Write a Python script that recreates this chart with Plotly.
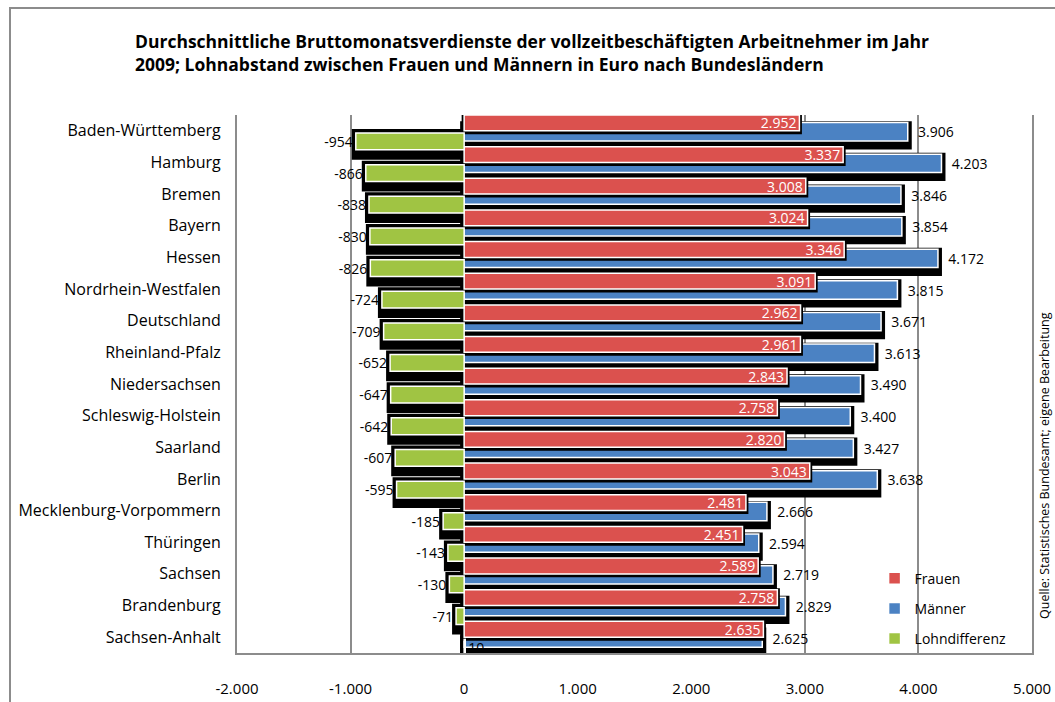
import plotly.graph_objects as go

laender = ["Baden-Württemberg", "Hamburg", "Bremen", "Bayern", "Hessen",
           "Nordrhein-Westfalen", "Deutschland", "Rheinland-Pfalz", "Niedersachsen",
           "Schleswig-Holstein", "Saarland", "Berlin", "Mecklenburg-Vorpommern",
           "Thüringen", "Sachsen", "Brandenburg", "Sachsen-Anhalt"]
frauen = [2952, 3337, 3008, 3024, 3346, 3091, 2962, 2961, 2843, 2758, 2820, 3043,
          2481, 2451, 2589, 2758, 2635]
maenner = [3906, 4203, 3846, 3854, 4172, 3815, 3671, 3613, 3490, 3400, 3427, 3638,
           2666, 2594, 2719, 2829, 2625]
lohndifferenz = [-954, -866, -838, -830, -826, -724, -709, -652, -647, -642, -607, -595,
                 -185, -143, -130, -71, 10]
x_ticks = [-2000, -1000, 0, 1000, 2000, 3000, 4000, 5000]
x_tick_labels = ["-2.000", "-1.000", "0", "1.000", "2.000", "3.000", "4.000", "5.000"]

FONT = "Open Sans"
RED = "#db514e"
BLUE = "#4b82c3"
GREEN = "#a0c443"

fig = go.Figure()


def shadow(vals, off, wid, lw):
    fig.add_trace(go.Bar(
        y=laender, x=vals, orientation="h", offset=off, width=wid,
        marker=dict(color="black", line=dict(color="black", width=lw)),
        showlegend=False, hoverinfo="skip"))


# green shadow (behind everything)
shadow(lohndifferenz, 0.07, 0.72, 8)
# Männer
shadow(maenner, -0.18, 0.64, 8)
fig.add_trace(go.Bar(
    y=laender, x=maenner, orientation="h", name="Männer", offset=-0.26, width=0.58,
    marker=dict(color=BLUE, line=dict(color="white", width=1.5)),
    text=maenner, texttemplate="  %{x:,}", textposition="outside",
    textfont=dict(family=FONT, size=14, color="black"), constraintext="none",
    cliponaxis=False, legendgroup="m", legendrank=2))
# Frauen
shadow(frauen, -0.47, 0.5, 5)
fig.add_trace(go.Bar(
    y=laender, x=frauen, orientation="h", name="Frauen", offset=-0.5, width=0.5,
    marker=dict(color=RED, line=dict(color="white", width=1.5)),
    text=frauen, texttemplate="%{x:,}", textposition="inside", insidetextanchor="end",
    textfont=dict(family=FONT, size=14, color="white"), constraintext="none",
    cliponaxis=False, legendgroup="f", legendrank=1))
# Lohndifferenz
fig.add_trace(go.Bar(
    y=laender, x=lohndifferenz, orientation="h", name="Lohndifferenz", offset=0.07, width=0.53,
    marker=dict(color=GREEN, line=dict(color="white", width=1.5)),
    text=lohndifferenz, texttemplate="%{x:,}", textposition="outside",
    textfont=dict(family=FONT, size=14, color="black"), constraintext="none",
    cliponaxis=False, legendgroup="l", legendrank=3))

fig.update_layout(
    width=1055, height=702,
    margin=dict(l=237, r=23, t=115, b=49, autoexpand=False),
    barmode="overlay",
    separators=",.",
    paper_bgcolor="white", plot_bgcolor="white",
    font=dict(family=FONT, size=14, color="black"),
    title=dict(
        text="<b>Durchschnittliche Bruttomonatsverdienste der vollzeitbeschäftigten Arbeitnehmer im Jahr<br>"
             "2009; Lohnabstand zwischen Frauen und Männern in Euro nach Bundesländern</b>",
        x=135 / 1055, xanchor="left", xref="container",
        y=1 - 48 / 702, yanchor="top", yref="container",
        font=dict(family=FONT, size=17.5, color="black")),
    legend=dict(x=0.802, xanchor="left", y=0.168, yanchor="top",
                bgcolor="rgba(0,0,0,0)", font=dict(family=FONT, size=14),
                tracegroupgap=9, itemwidth=30),
    xaxis=dict(range=[-2000, 5000], tickvals=x_ticks, ticktext=x_tick_labels,
               automargin=False,
               showgrid=True, gridcolor="#8c8c8c", gridwidth=2,
               zeroline=True, zerolinecolor="#8c8c8c", zerolinewidth=2,
               showline=True, linecolor="#8c8c8c", linewidth=2,
               ticks="outside", ticklen=21, tickcolor="rgba(0,0,0,0)",
               tickfont=dict(family=FONT, size=15)),
    yaxis=dict(type="category", categoryorder="array", categoryarray=laender,
               range=[16.5, -0.5], showgrid=False, zeroline=False, automargin=False,
               showline=True, mirror=True, linecolor="#8c8c8c", linewidth=2,
               ticks="outside", ticklen=11, tickcolor="rgba(0,0,0,0)",
               tickfont=dict(family=FONT, size=16)),
    shapes=[dict(type="rect", xref="paper", yref="paper",
                 x0=(10 - 237) / 795, x1=(1070 - 237) / 795,
                 y0=(653 - 720) / 538, y1=(653 - 8) / 538,
                 line=dict(color="#8c8c8c", width=2), layer="below")],
    annotations=[dict(text="Quelle: Statistisches Bundesamt; eigene Bearbeitung",
                      textangle=-90, xref="paper", yref="paper",
                      x=(1045 - 237) / 795, y=(653 - 466) / 538,
                      xanchor="center", yanchor="middle", showarrow=False,
                      font=dict(family=FONT, size=12.5, color="black"))],
)

fig.write_html("out.html", config={"displayModeBar": False},
               post_script="document.body.style.margin='0px';")
